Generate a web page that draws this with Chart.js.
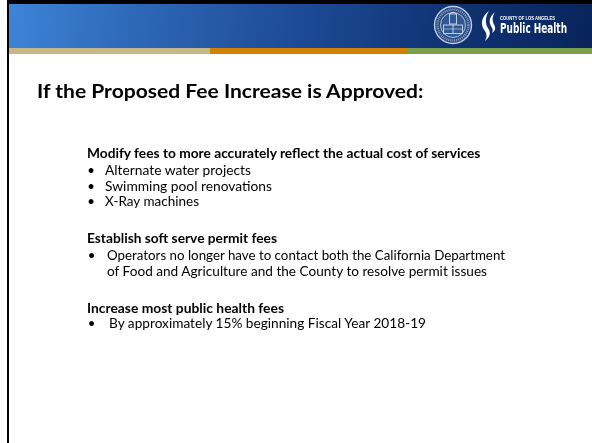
<!DOCTYPE html>
<html>
<head>
<meta charset="utf-8">
<script src="https://cdn.jsdelivr.net/npm/chart.js@4/dist/chart.umd.min.js"></script>
<style>
  html,body{margin:0;padding:0;background:#fff;}
  body{width:592px;height:443px;position:relative;overflow:hidden;}
  #header{position:absolute;left:9px;top:4px;width:583px;height:44px;
    background:linear-gradient(100deg,#3e84d8 0%,#2d68b6 22%,#1e4c98 48%,#103475 74%,#08245b 100%);}
  #stripeBox{position:absolute;left:9px;top:48px;width:583px;height:6px;}
  #frameTop{position:absolute;left:7px;top:0;width:585px;height:4px;background:#000;}
  #frameLeft{position:absolute;left:7px;top:0;width:2px;height:443px;background:#000;}
  #page{position:absolute;left:0;top:0;}
  text{font-family:Lato,"Open Sans",sans-serif;}
</style>
</head>
<body>
<div id="header"></div>
<div id="stripeBox"><canvas id="stripe"></canvas></div>
<div id="frameTop"></div>
<div id="frameLeft"></div>
<svg id="page" width="592" height="443" viewBox="0 0 592 443" xmlns="http://www.w3.org/2000/svg">
  <!-- county seal -->
  <circle cx="453" cy="25" r="18.5" fill="#284c88" stroke="#c3cde0" stroke-width="1.4"/>
  <circle cx="453" cy="25" r="15.5" fill="none" stroke="#8fa3c4" stroke-width="2.2" stroke-dasharray="1 1"/>
  <circle cx="453" cy="25" r="12.5" fill="#2e5794" stroke="#c3cde0" stroke-width="0.9"/>
  <rect x="449.5" y="14" width="7" height="10" fill="none" stroke="#d2dae8" stroke-width="0.9"/>
  <path d="M449.5 14 Q453 10.5 456.5 14" fill="none" stroke="#d2dae8" stroke-width="0.9"/>
  <rect x="443.5" y="25" width="19" height="8.5" fill="none" stroke="#d2dae8" stroke-width="0.9"/>
  <line x1="453" y1="25" x2="453" y2="33.5" stroke="#d2dae8" stroke-width="0.9"/>
  <line x1="443.5" y1="29" x2="462.5" y2="29" stroke="#d2dae8" stroke-width="0.6"/>
  <!-- swoosh -->
  <path d="M489 11 C481 17 480 25 485 31 C487 34 487 37 485 41 C490 37 491 33 488.5 29 C485 24 485 17 489 11 Z" fill="#ffffff"/>
  <path d="M495 12 C489 17 488.5 22 491.5 27 C493 29 493 31 492 33 C495 31 496 28.5 494.5 25.5 C492 21 492 17 495 12 Z" fill="#ffffff"/>
  <text x="500" y="19.5" font-weight="bold" font-size="4.6" fill="#ffffff" textLength="55" lengthAdjust="spacingAndGlyphs" style="font-family:'Liberation Sans'">COUNTY OF LOS ANGELES</text>
  <text x="0" y="0" transform="translate(500 32.5) scale(1 1.27)" font-weight="bold" font-size="11" fill="#ffffff" textLength="67" lengthAdjust="spacingAndGlyphs" style="font-family:'DejaVu Sans Condensed','DejaVu Sans'">Public Health</text>
  <g id="slideText"></g>
</svg>

<script>
// Header accent stripe: segments (relative widths) and colours
const stripeSegments = ["tan", "orange", "green"];
const stripeShares = [34.4, 33.9, 31.7];
const stripeColors = ["#c5b886", "#d28000", "#7a9f4b"];

// Slide text
const slideTitle = "If the Proposed Fee Increase is Approved:";
const sectionHeads = [
  "Modify fees to more accurately reflect the actual cost of services",
  "Establish soft serve permit fees",
  "Increase most public health fees"
];
const section1Bullets = ["Alternate water projects", "Swimming pool renovations", "X-Ray machines"];
const section2Lines = ["Operators no longer have to contact both the California Department",
                       "of Food and Agriculture and the County to resolve permit issues"];
const section3Bullets = ["By approximately 15% beginning Fiscal Year 2018-19"];

const NS = "http://www.w3.org/2000/svg";
const g = document.getElementById('slideText');
function addText(str, x, y, size, bold, anchor) {
  const t = document.createElementNS(NS, 'text');
  t.setAttribute('x', x); t.setAttribute('y', y);
  t.setAttribute('font-size', size);
  if (bold) t.setAttribute('font-weight', 'bold');
  if (anchor) t.setAttribute('text-anchor', anchor);
  t.setAttribute('fill', '#000');
  t.textContent = str;
  g.appendChild(t);
  return t;
}
function fitWidth(t, target) {
  t.setAttribute('textLength', target);
  t.setAttribute('lengthAdjust', 'spacingAndGlyphs');
}
function fitByPrefix(t, prefix, prefixTarget, size, bold) {
  const probe = addText(prefix, 0, -50, size, bold);
  const k = prefixTarget / probe.getComputedTextLength();
  probe.remove();
  fitWidth(t, t.getComputedTextLength() * k);
}

const TITLE = 19.7, BODY = 13.2;
const tt = addText(slideTitle, 37, 98, TITLE, true);
fitByPrefix(tt, "If the Proposed Fee Increase", 265, TITLE, true);

const h1 = addText(sectionHeads[0], 87, 158, BODY, true);
fitByPrefix(h1, "Modify fees to more accurately reflect the actual co", 314, BODY, true);
const s1y = [174.5, 190.5, 206.3], s1w = [146, 167, 94];
section1Bullets.forEach((s, i) => {
  addText('\u2022', 91, s1y[i], BODY, false, 'middle');
  fitWidth(addText(s, 105, s1y[i], BODY, false), s1w[i]);
});

fitWidth(addText(sectionHeads[1], 87, 243, BODY, true), 190);
addText('\u2022', 91.5, 260, BODY, false, 'middle');
fitWidth(addText(section2Lines[0], 107, 260, BODY, false), 398);
fitWidth(addText(section2Lines[1], 107, 276, BODY, false), 380);

fitWidth(addText(sectionHeads[2], 87, 312.5, BODY, true), 197);
addText('\u2022', 91.5, 328, BODY, false, 'middle');
fitWidth(addText(section3Bullets[0], 109, 328, BODY, false), 317);

// accent stripe as one stacked horizontal bar
new Chart(document.getElementById('stripe'), {
  type: 'bar',
  data: {
    labels: ['stripe'],
    datasets: stripeSegments.map((s, i) => ({
      label: s,
      data: [stripeShares[i]],
      backgroundColor: stripeColors[i],
      borderWidth: 0,
      barPercentage: 1,
      categoryPercentage: 1
    }))
  },
  options: {
    indexAxis: 'y',
    responsive: true,
    maintainAspectRatio: false,
    animation: false,
    layout: {padding: 0},
    plugins: {legend: {display: false}, tooltip: {enabled: false}},
    scales: {
      x: {stacked: true, display: false, min: 0, max: stripeShares.reduce((a, b) => a + b, 0)},
      y: {stacked: true, display: false}
    }
  }
});
</script>
</body>
</html>
